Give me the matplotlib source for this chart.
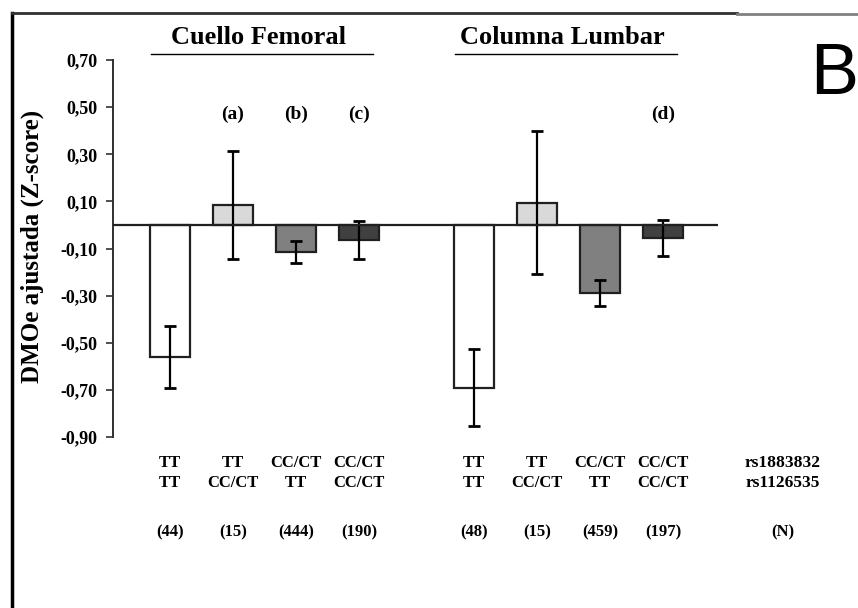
''' DMO ajustada por genotipo - Cuello Femoral / Columna Lumbar '''

import numpy as np
import matplotlib.pyplot as plt
from matplotlib.lines import Line2D

# ---- data ----
snp1 = ['TT', 'TT', 'CC/CT', 'CC/CT']
snp2 = ['TT', 'CC/CT', 'TT', 'CC/CT']
femoral_vals = [-0.56, 0.085, -0.115, -0.065]
femoral_err = [0.13, 0.23, 0.045, 0.08]
femoral_n = ['(44)', '(15)', '(444)', '(190)']
femoral_sig = ['', '(a)', '(b)', '(c)']
lumbar_vals = [-0.69, 0.095, -0.29, -0.055]
lumbar_err = [0.165, 0.305, 0.055, 0.077]
lumbar_n = ['(48)', '(15)', '(459)', '(197)']
lumbar_sig = ['', '', '', '(d)']
yticks = [0.70, 0.50, 0.30, 0.10, -0.10, -0.30, -0.50, -0.70, -0.90]

colors = ['#ffffff', '#d9d9d9', '#808080', '#404040']
serif = 'Liberation Serif'

fig = plt.figure(figsize=(8.58, 6.08), dpi=100)
ax = fig.add_axes([113/858, 1-437/608, 605/858, 377/608])

x1 = np.arange(4)
x2 = np.arange(4) + 4.83
w = 0.63

for xs, vals, errs in [(x1, femoral_vals, femoral_err), (x2, lumbar_vals, lumbar_err)]:
    ax.bar(xs, vals, width=w, color=colors, edgecolor='#202020', linewidth=1.6, zorder=2)
    ax.errorbar(xs, vals, yerr=errs, fmt='none', ecolor='black', elinewidth=1.6,
                capsize=4, capthick=2, zorder=3)

ax.axhline(0, color='#202020', linewidth=1.6, zorder=4)

ax.set_xlim(-0.905, 8.70)
ax.set_ylim(-0.90, 0.70)
ax.set_yticks(yticks)
ax.set_yticklabels([f'{v:.2f}'.replace('.', ',') for v in yticks],
                   fontfamily=serif, fontweight='bold', fontsize=13)
ax.tick_params(axis='y', direction='out', length=5, width=1.2, color='#303030', pad=6)
ax.set_xticks([])
for s in ['top', 'right', 'bottom']:
    ax.spines[s].set_visible(False)
ax.spines['left'].set_color('#303030')
ax.spines['left'].set_linewidth(1.4)

ax.set_ylabel('DMOe ajustada (Z-score)', fontfamily=serif, fontweight='bold', fontsize=18)
ax.yaxis.set_label_coords(-0.114, 0.505)

txt = dict(fontfamily=serif, fontweight='bold', ha='center', va='center', clip_on=False)

# group titles with underline
for xs, title in [(x1, 'Cuello Femoral'), (x2, 'Columna Lumbar')]:
    c = xs.mean()
    ax.text(c - 0.1, 0.797, title, fontsize=19, **txt)
    ax.plot([c - 1.8, c + 1.72], [0.725, 0.725], color='black', lw=1.0, clip_on=False)

# significance labels and genotype rows
for xs, sig, ns in [(x1, femoral_sig, femoral_n), (x2, lumbar_sig, lumbar_n)]:
    for i, x in enumerate(xs):
        if sig[i]:
            ax.text(x, 0.47, sig[i], fontsize=14, **txt)
        ax.text(x, -1.01, snp1[i], fontsize=12, **txt)
        ax.text(x, -1.095, snp2[i], fontsize=12, **txt)
        ax.text(x, -1.305, ns[i], fontsize=12, **txt)

ax.text(9.73, -1.01, 'rs1883832', fontsize=12.5, **txt)
ax.text(9.73, -1.095, 'rs1126535', fontsize=12.5, **txt)
ax.text(9.73, -1.305, '(N)', fontsize=12, **txt)

# panel letter
fig.text(858/858, 1-76/608, 'B', fontfamily='Liberation Sans',
         fontsize=52, ha='right', va='center')

# outer frame lines
fig.add_artist(Line2D([12/858, 12/858], [0, 1-13/608], color='black', lw=2.5))
fig.add_artist(Line2D([12/858, 737/858], [1-13/608, 1-13/608], color='#303030', lw=2))
fig.add_artist(Line2D([737/858, 1], [1-14/608, 1-14/608], color='#808080', lw=2))

fig.savefig('out.png', dpi=100)
